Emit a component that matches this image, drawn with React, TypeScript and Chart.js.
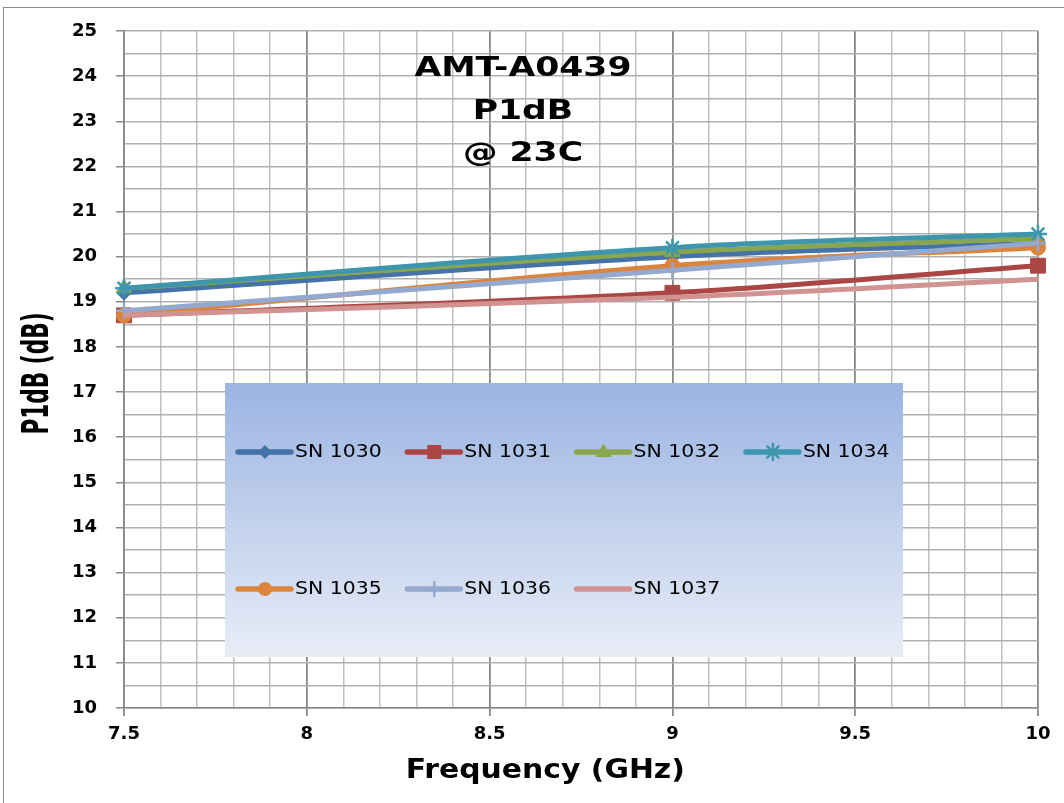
import React, { useEffect, useRef } from 'react';
import { Chart, registerables } from 'chart.js';

Chart.register(...registerables);

// ---------- data ----------
const frequencies = [7.5, 9, 10];
const seriesNames = ['SN 1030', 'SN 1031', 'SN 1032', 'SN 1034', 'SN 1035', 'SN 1036', 'SN 1037'];
const sn1030 = [19.2, 20.0, 20.3];
const sn1031 = [18.7, 19.2, 19.8];
const sn1032 = [19.3, 20.1, 20.4];
const sn1034 = [19.3, 20.2, 20.5];
const sn1035 = [18.7, 19.8, 20.2];
const sn1036 = [18.8, 19.7, 20.3];
const sn1037 = [18.7, 19.1, 19.5];
const seriesValues = [sn1030, sn1031, sn1032, sn1034, sn1035, sn1036, sn1037];

const titleLines = ['AMT-A0439', 'P1dB', '@ 23C'];
const xAxisTitle = 'Frequency (GHz)';
const yAxisTitle = 'P1dB (dB)';
const xMin = 7.5;
const xMax = 10;
const xStep = 0.1;
const yMin = 10;
const yMax = 25;
const yStep = 0.5;

// ---------- styles ----------
const seriesColors = ['#4572A7', '#AA4643', '#89A54E', '#3D96AE', '#DB843D', '#93A9CF', '#D19392'];
const seriesMarkers = ['rectRot', 'rect', 'triangle', 'star', 'circle', 'cross', 'none'];
const markerRadius = [7.5, 10.5, 9, 9, 7.5, 8, 0];
const FONT = "'DejaVu Sans', Verdana, sans-serif";

Chart.defaults.font.family = FONT;
Chart.defaults.font.size = 18;
(Chart.defaults.font as any).weight = 'bold';
Chart.defaults.color = '#000';

function drawText(
  ctx: CanvasRenderingContext2D,
  text: string,
  x: number,
  y: number,
  font: string,
  sx: number,
  sy: number,
  rot = 0,
  baseline: CanvasTextBaseline = 'alphabetic'
) {
  ctx.save();
  ctx.translate(x, y);
  ctx.rotate(rot);
  ctx.scale(sx, sy);
  ctx.font = font;
  ctx.fillStyle = '#000';
  ctx.textAlign = 'center';
  ctx.textBaseline = baseline;
  ctx.fillText(text, 0, 0);
  ctx.restore();
}

function drawMarker(ctx: CanvasRenderingContext2D, style: string, x: number, y: number, r: number, color: string) {
  ctx.save();
  ctx.fillStyle = color;
  ctx.strokeStyle = color;
  ctx.lineWidth = 2.5;
  ctx.beginPath();
  if (style === 'rectRot') {
    ctx.moveTo(x, y - r);
    ctx.lineTo(x + r, y);
    ctx.lineTo(x, y + r);
    ctx.lineTo(x - r, y);
    ctx.closePath();
    ctx.fill();
  } else if (style === 'rect') {
    ctx.rect(x - r, y - r, 2 * r, 2 * r);
    ctx.fill();
  } else if (style === 'triangle') {
    ctx.moveTo(x, y - r);
    ctx.lineTo(x + r * 0.95, y + r * 0.6);
    ctx.lineTo(x - r * 0.95, y + r * 0.6);
    ctx.closePath();
    ctx.fill();
  } else if (style === 'circle') {
    ctx.arc(x, y, r, 0, Math.PI * 2);
    ctx.fill();
  } else if (style === 'star') {
    ctx.moveTo(x - r * 0.7, y - r * 0.7);
    ctx.lineTo(x + r * 0.7, y + r * 0.7);
    ctx.moveTo(x + r * 0.7, y - r * 0.7);
    ctx.lineTo(x - r * 0.7, y + r * 0.7);
    ctx.moveTo(x, y - r);
    ctx.lineTo(x, y + r);
    ctx.stroke();
  } else if (style === 'cross') {
    ctx.moveTo(x, y - r);
    ctx.lineTo(x, y + r);
    ctx.moveTo(x - r, y);
    ctx.lineTo(x + r, y);
    ctx.stroke();
  }
  ctx.restore();
}

const decorPlugin = {
  id: 'decor',
  afterDatasetsDraw(chart: any) {
    const ctx: CanvasRenderingContext2D = chart.ctx;
    const a = chart.chartArea;
    // legend box
    const bx = a.left + 101;
    const by = a.top + 352;
    const bw = 678;
    const bh = 274;
    const g = ctx.createLinearGradient(0, by, 0, by + bh);
    g.addColorStop(0, '#9bb4e2');
    g.addColorStop(1, '#e8edf7');
    ctx.save();
    ctx.fillStyle = g;
    ctx.fillRect(bx, by, bw, bh);
    chart.data.datasets.forEach((ds: any, i: number) => {
      const row = i < 4 ? 0 : 1;
      const col = i % 4;
      const x0 = bx + 13 + col * 169.3;
      const y0 = by + 69 + row * 137;
      ctx.beginPath();
      ctx.strokeStyle = ds.borderColor;
      ctx.lineWidth = 5.5;
      ctx.lineCap = 'round';
      ctx.moveTo(x0, y0);
      ctx.lineTo(x0 + 53, y0);
      ctx.stroke();
      const legendR = [7, 7, 8.5, 8, 7, 7, 0][i];
      drawMarker(ctx, seriesMarkers[i], x0 + 27, y0, legendR, ds.borderColor);
      ctx.save();
      ctx.translate(x0 + 57, y0);
      ctx.scale(1.2, 1);
      ctx.font = `17px ${FONT}`;
      ctx.fillStyle = '#000';
      ctx.textAlign = 'left';
      ctx.textBaseline = 'middle';
      ctx.fillText(ds.label, 0, 1);
      ctx.restore();
    });
    ctx.restore();
  },
  afterDraw(chart: any) {
    const ctx: CanvasRenderingContext2D = chart.ctx;
    const a = chart.chartArea;
    const cx = a.left + (a.right - a.left) * 0.4365;
    const tf = `bold 26px ${FONT}`;
    titleLines.forEach((t, i) => {
      drawText(ctx, t, cx, a.top + 45 + i * 42.5, tf, 1.33, 1);
    });
    ctx.save();
    ctx.font = `bold 26px ${FONT}`;
    const wx = ctx.measureText(xAxisTitle).width;
    const wy = ctx.measureText(yAxisTitle).width;
    ctx.restore();
    drawText(ctx, xAxisTitle, a.left + (a.right - a.left) * 0.461, a.bottom + 70, `bold 26px ${FONT}`, 279 / wx, 1);
    drawText(
      ctx,
      yAxisTitle,
      a.left - 85,
      (a.top + a.bottom) / 2 + 4,
      `bold 26px ${FONT}`,
      122 / wy,
      1.4,
      -Math.PI / 2,
      'middle'
    );
  },
};

function isMultiple(v: number, step: number) {
  const q = v / step;
  return Math.abs(q - Math.round(q)) < 1e-6;
}

export default function App() {
  const canvasRef = useRef<HTMLCanvasElement | null>(null);

  useEffect(() => {
    if (!canvasRef.current) return;
    const datasets = seriesNames.map((name, i) => ({
      label: name,
      data: frequencies.map((f, j) => ({ x: f, y: seriesValues[i][j] })),
      borderColor: seriesColors[i],
      backgroundColor: seriesColors[i],
      pointBackgroundColor: seriesColors[i],
      pointBorderColor: seriesColors[i],
      pointBorderWidth: seriesMarkers[i] === 'star' || seriesMarkers[i] === 'cross' ? 2.5 : 1,
      pointStyle: seriesMarkers[i] === 'none' ? 'circle' : seriesMarkers[i],
      pointRadius: markerRadius[i],
      borderWidth: 5,
      tension: 0.35,
      fill: false,
      clip: false as any,
      order: seriesNames.length - i,
    }));

    const chart = new Chart(canvasRef.current, {
      type: 'line',
      data: { datasets },
      plugins: [decorPlugin],
      options: {
        animation: false,
        responsive: true,
        maintainAspectRatio: false,
        layout: { padding: { top: 31, right: 26, left: 0, bottom: 0 } },
        plugins: {
          legend: { display: false },
          title: { display: false },
          tooltip: { enabled: false },
        },
        scales: {
          x: {
            type: 'linear',
            min: xMin,
            max: xMax,
            afterFit: (s: any) => {
              s.height = 95;
            },
            border: { color: '#868686', width: 1.5 },
            grid: {
              color: (c: any) => (isMultiple(c.tick.value, 0.5) ? '#888888' : '#c0c0c0'),
              lineWidth: (c: any) => (isMultiple(c.tick.value, 0.5) ? 1.8 : 1.5),
              tickColor: (c: any) => (isMultiple(c.tick.value, 0.5) ? '#888888' : 'rgba(0,0,0,0)'),
              tickLength: 8,
            },
            ticks: {
              stepSize: xStep,
              autoSkip: false,
              maxRotation: 0,
              minRotation: 0,
              padding: 8,
              color: '#000',
              font: { family: FONT, size: 18, weight: 'bold' },
              callback: (v: any) => {
                const n = Number(v);
                return isMultiple(n, 0.5) ? String(Math.round(n * 10) / 10) : '';
              },
            },
          },
          y: {
            type: 'linear',
            min: yMin,
            max: yMax,
            afterFit: (s: any) => {
              s.width = 124;
            },
            border: { color: '#868686', width: 1.5 },
            grid: {
              color: '#b0b0b0',
              lineWidth: 1.5,
              tickColor: (c: any) => (isMultiple(c.tick.value, 1) ? '#888888' : 'rgba(0,0,0,0)'),
              tickLength: 8,
            },
            ticks: {
              stepSize: yStep,
              autoSkip: false,
              padding: 19,
              color: '#000',
              font: { family: FONT, size: 18, weight: 'bold' },
              callback: (v: any) => {
                const n = Number(v);
                return isMultiple(n, 1) ? String(Math.round(n)) : '';
              },
            },
          },
        },
      } as any,
    });
    return () => chart.destroy();
  }, []);

  return (
    <div
      style={{
        position: 'fixed',
        left: 0,
        top: 0,
        width: 1064,
        height: 803,
        overflow: 'hidden',
        background: '#fff',
      }}
    >
      <div
        style={{
          position: 'absolute',
          left: 3,
          top: 7,
          width: 1200,
          height: 1000,
          border: '1.5px solid #8c8c8c',
        }}
      />
      <div style={{ position: 'absolute', left: 0, top: 0, width: 1064, height: 803 }}>
        <canvas ref={canvasRef} />
      </div>
    </div>
  );
}
